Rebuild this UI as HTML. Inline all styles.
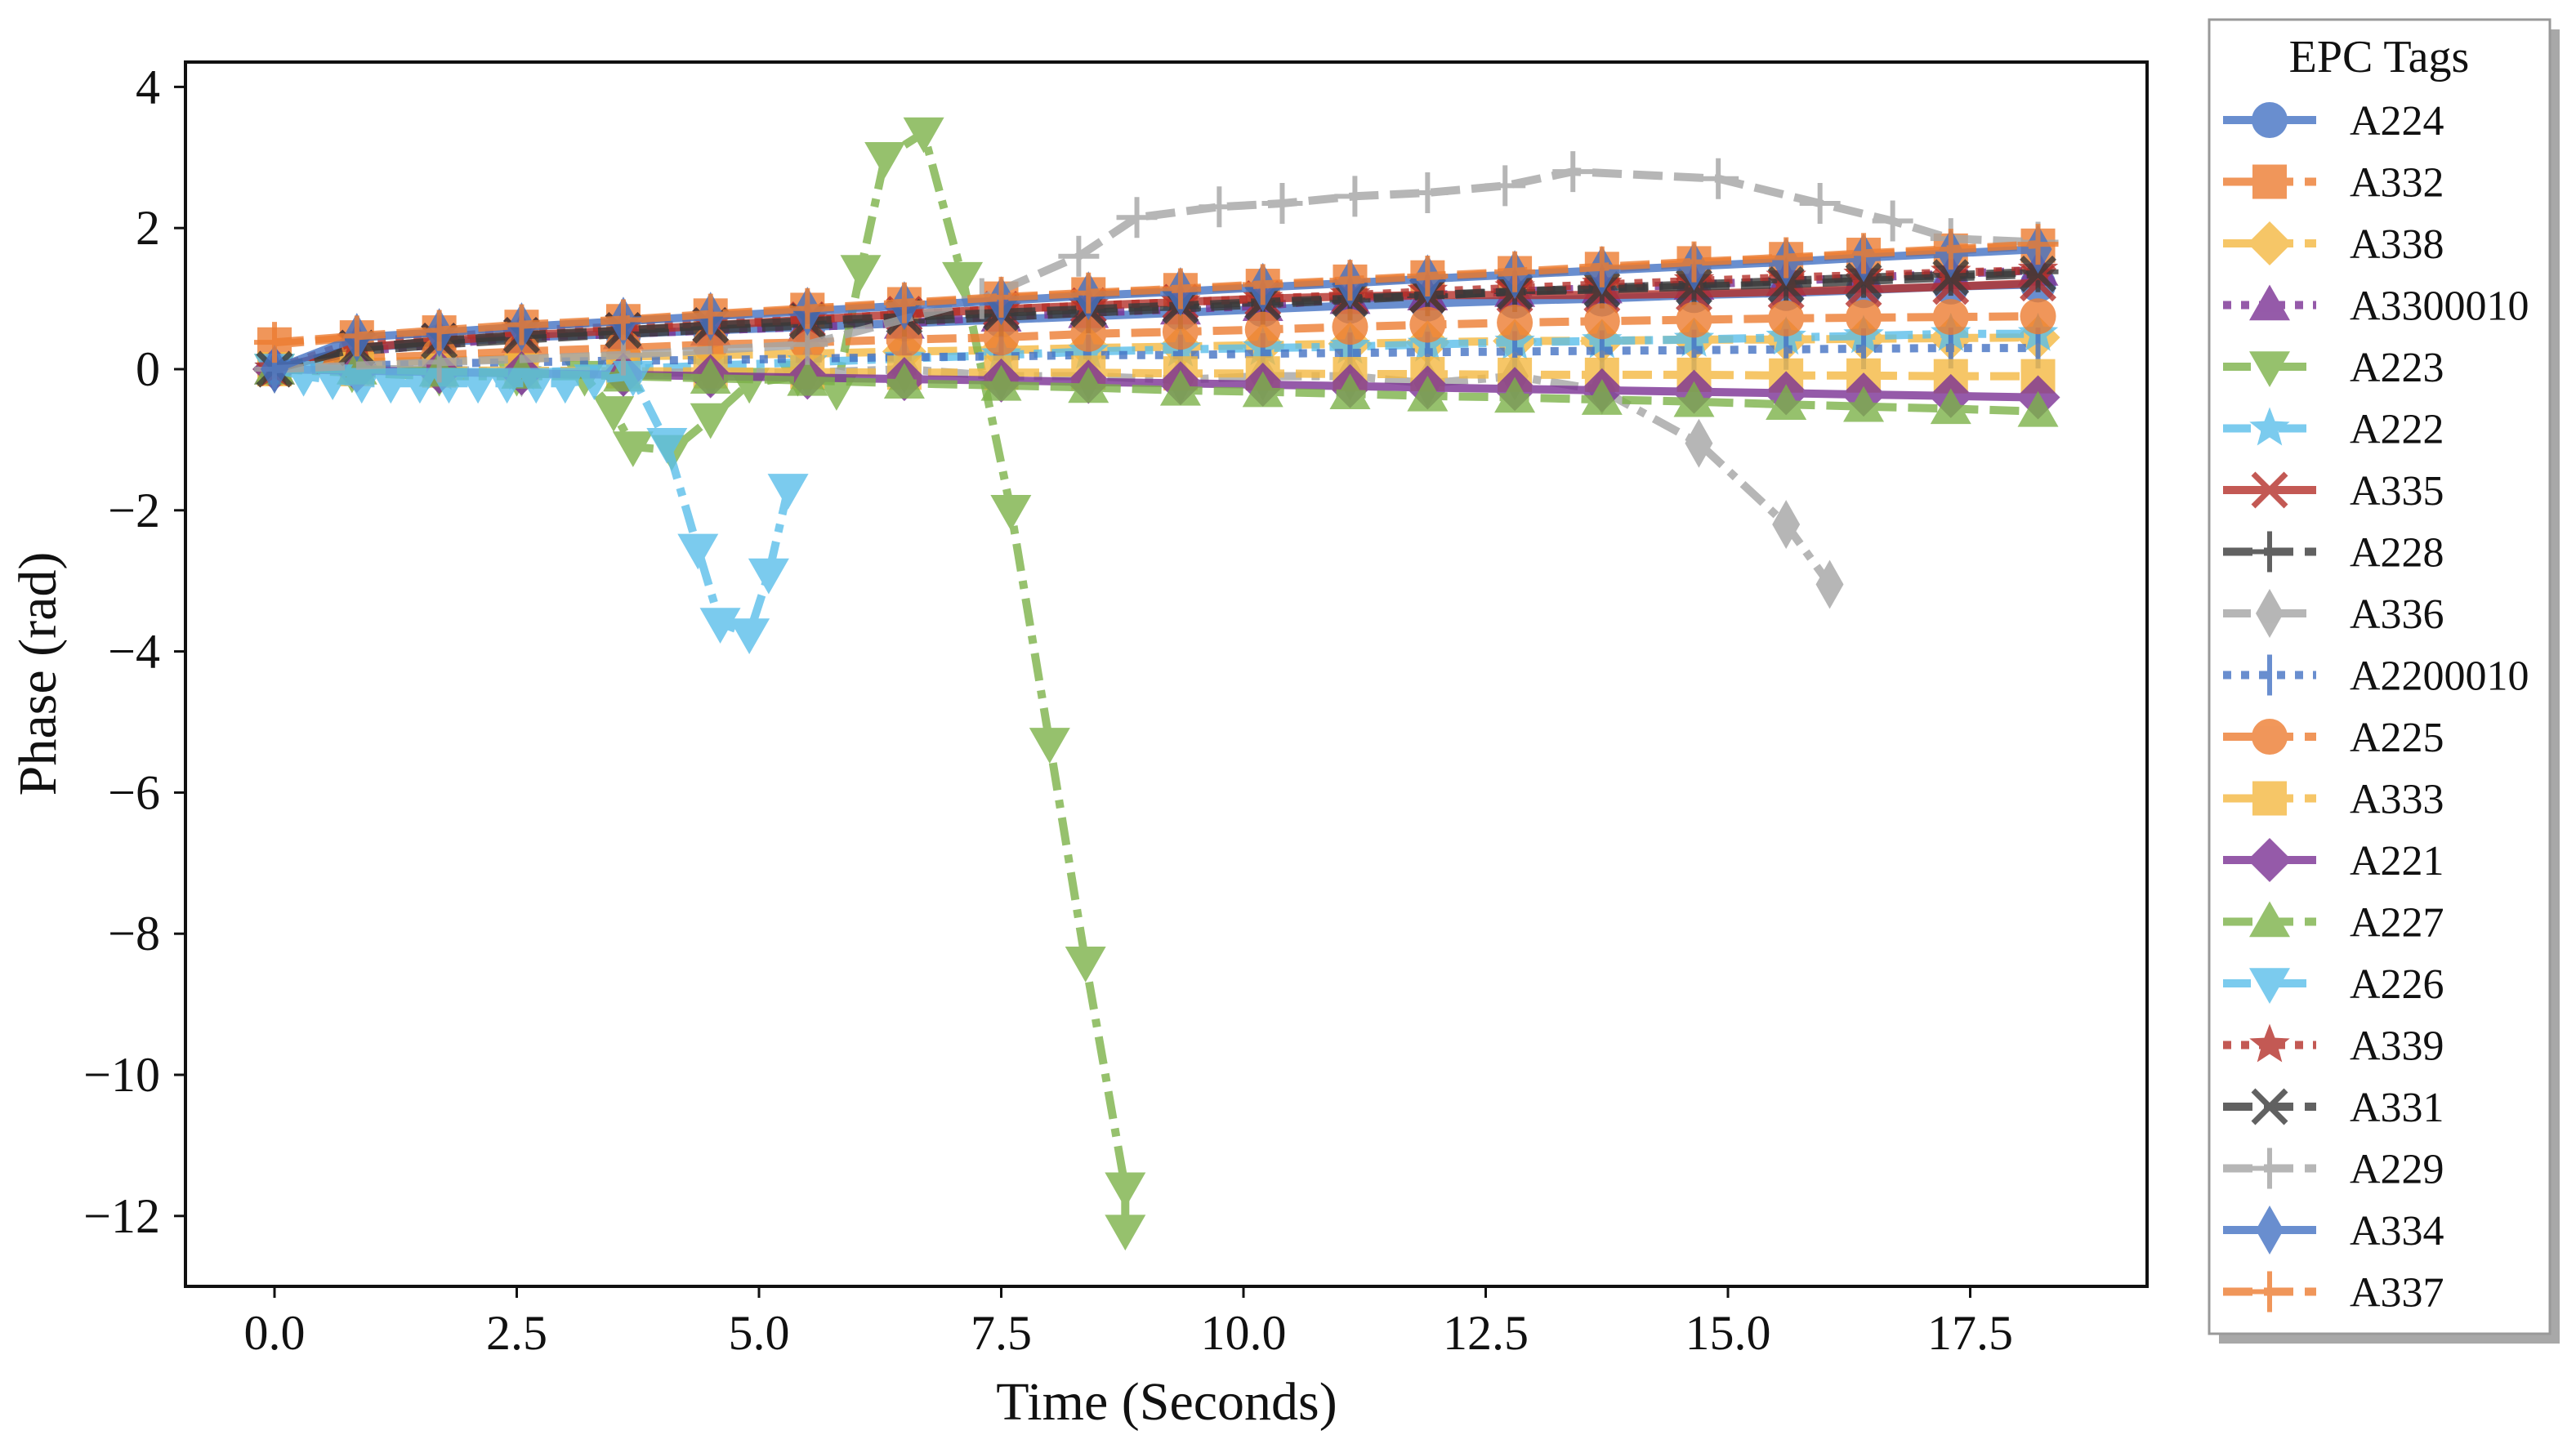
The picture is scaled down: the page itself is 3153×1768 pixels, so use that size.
<!DOCTYPE html>
<html><head><meta charset="utf-8"><style>
html,body{margin:0;padding:0;background:#fff;width:3153px;height:1768px;overflow:hidden}
svg{display:block;font-family:"Liberation Serif",serif}
</style></head><body>
<svg id="chart" width="3153" height="1768" viewBox="0 0 3153 1768" xmlns="http://www.w3.org/2000/svg">
<g id="plot"></g>
<g id="axes"></g>
<g id="legend"></g>
</svg>
<script>
const T = [0,0.85,1.7,2.55,3.6,4.5,5.5,6.5,7.5,8.4,9.35,10.2,11.1,11.9,12.8,13.7,14.65,15.6,16.4,17.3,18.2];
const xTicks = [0,2.5,5,7.5,10,12.5,15,17.5];
const xTickLabels = ["0.0","2.5","5.0","7.5","10.0","12.5","15.0","17.5"];
const yTicks = [4,2,0,-2,-4,-6,-8,-10,-12];
const yTickLabels = ["4","2","0","\u22122","\u22124","\u22126","\u22128","\u221210","\u221212"];
const vA224 = [0,.3,.38,.45,.5,.55,.6,.65,.7,.75,.8,.85,.9,.93,.97,1.0,1.05,1.08,1.12,1.17,1.2];
const vA332 = [.35,.45,.52,.6,.68,.76,.84,.92,1.0,1.06,1.12,1.18,1.24,1.3,1.36,1.42,1.5,1.56,1.62,1.68,1.75];
const vA338 = [0,.1,.12,.15,.18,.2,.22,.25,.27,.3,.32,.34,.36,.38,.4,.4,.42,.42,.43,.44,.45];
const vA3300010 = [0,.25,.35,.45,.5,.55,.6,.65,.75,.8,.85,.9,1.0,1.05,1.1,1.15,1.2,1.25,1.3,1.35,1.4];
const tA223 = [0,0.8,1.7,2.5,3.2,3.5,3.7,4.1,4.5,4.9,5.4,5.8,6.05,6.3,6.7,7.1,7.6,8.0,8.37,8.78,8.78];
const vA223 = [0,-.05,-.1,-.1,-.1,-.6,-1.1,-1.15,-.7,-.2,-.1,-.3,1.4,3.0,3.35,1.3,-2.0,-5.3,-8.4,-11.6,-12.2];
const vA222 = [0,0,-.05,-.05,0,.05,.1,.15,.2,.25,.28,.3,.32,.35,.38,.4,.42,.45,.47,.5,.5];
const vA335 = [0,.3,.4,.48,.55,.62,.7,.78,.85,.9,.95,1.0,1.03,1.05,1.05,1.05,1.07,1.1,1.13,1.17,1.22];
const vA228 = [0,.25,.35,.42,.5,.56,.62,.68,.74,.8,.86,.92,.98,1.04,1.1,1.15,1.2,1.25,1.3,1.33,1.38];
const tA336 = [0,0.85,1.7,2.55,3.6,4.5,5.5,6.5,7.5,8.4,9.35,10.2,11.1,11.9,12.8,13.7,14.7,15.6,16.05];
const vA336 = [0,0,0,-.05,-.05,-.05,-.05,0,-.1,-.1,-.15,-.1,-.1,-.2,-.1,-.3,-1.05,-2.2,-3.05];
const vA2200010 = [0,.05,.08,.1,.12,.13,.15,.17,.18,.2,.2,.22,.23,.24,.25,.26,.27,.28,.29,.3,.3];
const vA225 = [0,.15,.2,.25,.3,.35,.38,.42,.45,.5,.53,.56,.6,.63,.66,.68,.7,.72,.73,.74,.75];
const vA333 = [0,0,-.02,-.02,-.03,-.03,-.04,-.05,-.05,-.05,-.06,-.06,-.07,-.07,-.08,-.08,-.08,-.09,-.09,-.1,-.1];
const vA221 = [0,-.02,-.04,-.06,-.08,-.1,-.12,-.14,-.16,-.18,-.2,-.22,-.24,-.26,-.28,-.3,-.32,-.34,-.36,-.38,-.4];
const vA227 = [0,0,-.03,-.06,-.1,-.13,-.16,-.2,-.23,-.26,-.3,-.32,-.35,-.38,-.4,-.43,-.46,-.5,-.53,-.56,-.6];
const tA226 = [0,0.3,0.6,0.9,1.2,1.5,1.8,2.1,2.4,2.7,3.0,3.3,3.7,4.05,4.37,4.6,4.9,5.1,5.3];
const vA226 = [0,-.1,-.15,-.2,-.2,-.2,-.2,-.2,-.2,-.2,-.2,-.15,-.1,-1.05,-2.55,-3.6,-3.75,-2.9,-1.7];
const vA339 = [0,.4,.45,.55,.6,.65,.7,.78,.85,.9,.95,1.0,1.05,1.1,1.15,1.2,1.25,1.3,1.33,1.37,1.4];
const vA331 = [0,.3,.4,.48,.55,.62,.68,.74,.8,.85,.9,.95,1.0,1.05,1.1,1.13,1.17,1.2,1.25,1.3,1.35];
const tA229 = [0,1.7,3.6,5.5,7.3,8.3,8.9,9.75,10.4,11.15,11.9,12.7,13.4,14.9,15.95,16.7,17.3,18.2];
const vA229 = [0,.1,.2,.35,1.0,1.6,2.15,2.3,2.35,2.45,2.5,2.6,2.8,2.7,2.35,2.1,1.85,1.8];
const vA334 = [0,.45,.52,.6,.68,.75,.82,.9,.97,1.04,1.1,1.16,1.22,1.28,1.34,1.4,1.46,1.52,1.58,1.64,1.7];
const vA337 = [.38,.47,.55,.63,.7,.78,.86,.94,1.02,1.08,1.14,1.2,1.26,1.32,1.38,1.45,1.52,1.58,1.64,1.7,1.77];

const C={blue:"#4472c4",orange:"#ed7d31",yellow:"#f4b942",purple:"#7b3294",green:"#7cb249",lblue:"#5bbfea",red:"#b5302a",dark:"#3a3a3a",gray:"#a5a5a5"};
const DASH="36,14", DOT="10,12", DD="34,12,10,12";
const series=[
 ["A224",T,vA224,C.blue,null,"o"],
 ["A332",T,vA332,C.orange,DASH,"s"],
 ["A338",T,vA338,C.yellow,DASH,"D"],
 ["A3300010",T,vA3300010,C.purple,DOT,"^"],
 ["A223",tA223,vA223,C.green,DD,"v"],
 ["A222",T,vA222,C.lblue,DD,"*"],
 ["A335",T,vA335,C.red,null,"x"],
 ["A228",T,vA228,C.dark,DASH,"+"],
 ["A336",tA336,vA336,C.gray,DD,"d"],
 ["A2200010",T,vA2200010,C.blue,DOT,"|"],
 ["A225",T,vA225,C.orange,DASH,"o"],
 ["A333",T,vA333,C.yellow,DASH,"s"],
 ["A221",T,vA221,C.purple,null,"D"],
 ["A227",T,vA227,C.green,DASH,"^"],
 ["A226",tA226,vA226,C.lblue,DD,"v"],
 ["A339",T,vA339,C.red,DOT,"*"],
 ["A331",T,vA331,C.dark,DASH,"x"],
 ["A229",tA229,vA229,C.gray,DASH,"+"],
 ["A334",T,vA334,C.blue,null,"d"],
 ["A337",T,vA337,C.orange,DASH,"+"]
];
const L=227,R=2628,TOP=76,BOT=1575;
const X=t=>336+t*118.6;
const Y=v=>452-v*86.4;
const NS="http://www.w3.org/2000/svg";
function mk(tag,attrs,parent){const e=document.createElementNS(NS,tag);for(const k in attrs)e.setAttribute(k,attrs[k]);parent.appendChild(e);return e;}
function marker(g,type,cx,cy,col){
 const r=25;let e;
 if(type==="o")e=mk("circle",{cx,cy,r:22,fill:col},g);
 else if(type==="s")e=mk("rect",{x:cx-21,y:cy-21,width:42,height:42,fill:col},g);
 else if(type==="D")e=mk("polygon",{points:`${cx},${cy-27} ${cx+27},${cy} ${cx},${cy+27} ${cx-27},${cy}`,fill:col},g);
 else if(type==="d")e=mk("polygon",{points:`${cx},${cy-30} ${cx+17},${cy} ${cx},${cy+30} ${cx-17},${cy}`,fill:col},g);
 else if(type==="^")e=mk("polygon",{points:`${cx},${cy-r} ${cx+r},${cy+r*0.75} ${cx-r},${cy+r*0.75}`,fill:col},g);
 else if(type==="v")e=mk("polygon",{points:`${cx},${cy+r} ${cx+r},${cy-r*0.75} ${cx-r},${cy-r*0.75}`,fill:col},g);
 else if(type==="*"){let p=[];for(let i=0;i<10;i++){const a=-Math.PI/2+i*Math.PI/5,rr=i%2?11:26;p.push((cx+rr*Math.cos(a)).toFixed(1)+","+(cy+rr*Math.sin(a)).toFixed(1));}e=mk("polygon",{points:p.join(" "),fill:col},g);}
 else if(type==="x")e=mk("path",{d:`M${cx-20},${cy-20}L${cx+20},${cy+20}M${cx-20},${cy+20}L${cx+20},${cy-20}`,stroke:col,"stroke-width":7,fill:"none"},g);
 else if(type==="+")e=mk("path",{d:`M${cx-25},${cy}L${cx+25},${cy}M${cx},${cy-25}L${cx},${cy+25}`,stroke:col,"stroke-width":6,fill:"none"},g);
 else if(type==="|")e=mk("path",{d:`M${cx},${cy-25}L${cx},${cy+25}`,stroke:col,"stroke-width":6,fill:"none"},g);
 return e;
}
const plot=document.getElementById("plot");
const clip=mk("clipPath",{id:"pc"},mk("defs",{},plot));
mk("rect",{x:L,y:TOP,width:R-L,height:BOT-TOP},clip);
const pg=mk("g",{"clip-path":"url(#pc)"},plot);
series.forEach(s=>{
 const [name,ts,vs,col,dash,m]=s;
 const g=mk("g",{opacity:0.8},pg);
 
 
 const pts=ts.map((t,i)=>X(t).toFixed(1)+","+Y(vs[i]).toFixed(1)).join(" ");
 const a={points:pts,fill:"none",stroke:col,"stroke-width":10,"stroke-linejoin":"round"};
 if(dash)a["stroke-dasharray"]=dash;
 mk("polyline",a,g);
 ts.forEach((t,i)=>{const e=marker(g,m,X(t),Y(vs[i]),col);
  
  });
});
const ax=document.getElementById("axes");
mk("rect",{x:L,y:TOP,width:R-L,height:BOT-TOP,fill:"none",stroke:"#111","stroke-width":4},ax);
xTicks.forEach((t,i)=>{const x=X(t);
 mk("line",{x1:x,y1:BOT,x2:x,y2:BOT+14,stroke:"#111","stroke-width":3},ax);
 const tx=mk("text",{x:x,y:1652,"font-size":60,"text-anchor":"middle",fill:"#111"},ax);tx.textContent=xTickLabels[i];
 
 });
yTicks.forEach((v,i)=>{const y=Y(v);
 mk("line",{x1:L,y1:y,x2:L-14,y2:y,stroke:"#111","stroke-width":3},ax);
 const tx=mk("text",{x:196,y:y+20,"font-size":60,"text-anchor":"end",fill:"#111"},ax);tx.textContent=yTickLabels[i];
 
 });
const xt=mk("text",{x:1428,y:1738,"font-size":66,"text-anchor":"middle",fill:"#111"},ax);xt.textContent="Time (Seconds)";


const yt=mk("text",{x:0,y:0,"font-size":66,"text-anchor":"middle",fill:"#111",transform:"translate(68,825) rotate(-90)"},ax);yt.textContent="Phase (rad)";


const lg=document.getElementById("legend");
mk("rect",{x:2716,y:36,width:417,height:1609,fill:"#a8a8a8"},lg);
mk("rect",{x:2704,y:24,width:417,height:1609,fill:"#fff",stroke:"#999","stroke-width":3},lg);
const lt=mk("text",{x:2912,y:88,"font-size":56,"text-anchor":"middle",fill:"#111"},lg);lt.textContent="EPC Tags";


series.forEach((s,i)=>{const [name,,,col,dash,m]=s;const y=147+i*75.5;
 const g=mk("g",{},lg);
 
 
 const gg=mk("g",{opacity:0.8},g);
 const a={x1:2721,y1:y,x2:2835,y2:y,stroke:col,"stroke-width":10};if(dash)a["stroke-dasharray"]=dash;
 mk("line",a,gg);marker(gg,m,2778,y,col);
 const tx=mk("text",{x:2876,y:y+18,"font-size":52,fill:"#111"},g);tx.textContent=name;
});
</script>
</body></html>
